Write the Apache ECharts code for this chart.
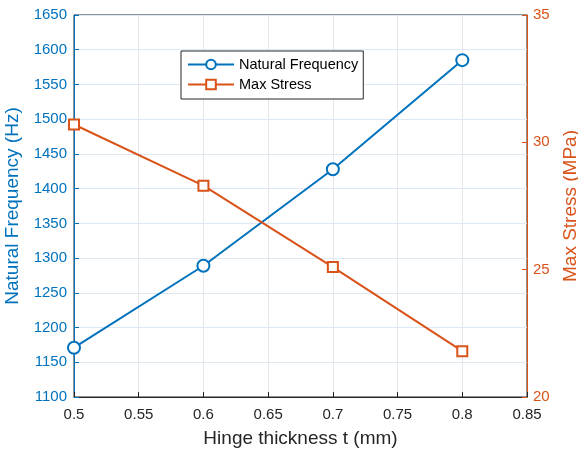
<!DOCTYPE html>
<html>
<head>
<meta charset="utf-8">
<script src="https://cdn.jsdelivr.net/npm/echarts@6/dist/echarts.min.js"></script>
<style>
  html, body { margin: 0; padding: 0; background: #fff; }
  #chart { width: 578px; height: 452px; }
</style>
</head>
<body>
<div id="chart"></div>
<script>
// data
var thickness = [0.5, 0.6, 0.7, 0.8];
var frequency = [1171, 1289, 1428, 1585];
var stress = [30.7, 28.3, 25.1, 21.8];

var blue = '#0072BD';
var orange = '#D95319';
var font = 'Liberation Sans, Arial, Helvetica, sans-serif';

var chart = echarts.init(document.getElementById('chart'));

function pairs(xs, ys) {
	var out = [];
	for (var i = 0; i < xs.length; i++) out.push([xs[i], ys[i]]);
	return out;
}

var option = {
	backgroundColor: '#fff',
	animation: false,
	textStyle: { fontFamily: font },
	grid: {
		left: 74, right: 51, top: 15, bottom: 55,
		containLabel: false, outerBoundsMode: 'none',
		show: true, borderColor: '#262626', borderWidth: 1
	},
	legend: {
		orient: 'vertical',
		left: 181, top: 51,
		padding: [6, 5, 7, 6],
		itemWidth: 46, itemHeight: 12, itemGap: 5,
		backgroundColor: '#fff',
		borderColor: '#262626', borderWidth: 1, borderRadius: 0,
		textStyle: { fontSize: 14.5, color: '#000', fontFamily: font },
		data: ['Natural Frequency', 'Max Stress']
	},
	xAxis: {
		type: 'value',
		min: 0.5, max: 0.85, interval: 0.05,
		name: 'Hinge thickness t (mm)',
		nameLocation: 'middle', nameGap: 32,
		nameTextStyle: { fontSize: 19, color: '#262626', fontFamily: font },
		axisLine: { lineStyle: { color: '#262626' } },
		axisTick: { inside: true, length: 5, lineStyle: { color: '#262626' } },
		axisLabel: {
			fontSize: 15, color: '#262626', margin: 10,
			formatter: function (v) { return +v.toFixed(2) + ''; }
		},
		splitLine: { show: true, lineStyle: { color: '#e3e6ea' } }
	},
	yAxis: [
		{
			type: 'value',
			min: 1100, max: 1650, interval: 50,
			name: 'Natural Frequency (Hz)',
			nameLocation: 'middle', nameGap: 46,
			nameTextStyle: { fontSize: 19, color: blue, fontFamily: font },
			axisLine: { show: true, lineStyle: { color: blue } },
			axisTick: { show: true, inside: true, length: 5, lineStyle: { color: blue } },
			axisLabel: {
				fontSize: 15, color: blue, margin: 7,
				formatter: function (v) { return String(v); }
			},
			splitLine: { show: true, lineStyle: { color: '#dde8f3' } }
		},
		{
			type: 'value',
			position: 'right',
			min: 20, max: 35, interval: 5,
			name: 'Max Stress (MPa)',
			nameLocation: 'middle', nameGap: 34, nameRotate: 90,
			nameTextStyle: { fontSize: 19, color: orange, fontFamily: font },
			axisLine: { show: true, lineStyle: { color: orange } },
			axisTick: { show: true, inside: true, length: 5, lineStyle: { color: orange } },
			axisLabel: { fontSize: 15, color: orange, margin: 6 },
			splitLine: { show: false }
		}
	],
	series: [
		{
			name: 'Natural Frequency',
			type: 'line',
			yAxisIndex: 0,
			data: pairs(thickness, frequency),
			symbol: 'emptyCircle', symbolSize: 12,
			lineStyle: { color: blue, width: 2 },
			itemStyle: { color: blue, borderColor: blue, borderWidth: 2 }
		},
		{
			name: 'Max Stress',
			type: 'line',
			yAxisIndex: 1,
			data: pairs(thickness, stress),
			symbol: 'emptyRect', symbolSize: 10,
			lineStyle: { color: orange, width: 2 },
			itemStyle: { color: orange, borderColor: orange, borderWidth: 2 }
		}
	]
};

chart.setOption(option);
</script>
</body>
</html>
